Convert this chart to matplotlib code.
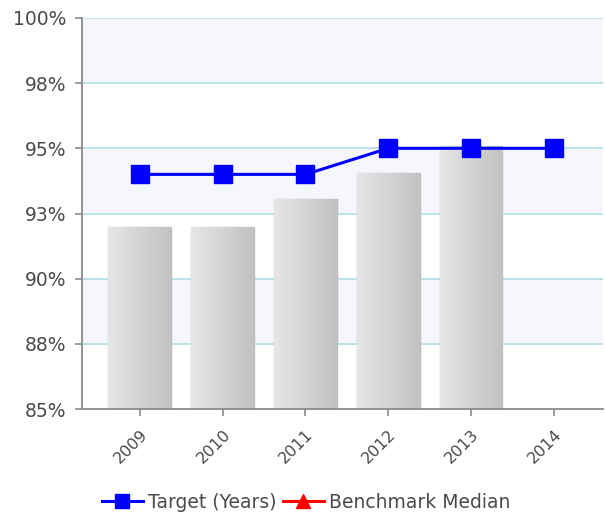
import numpy as np
import matplotlib.pyplot as plt
from matplotlib.colors import LinearSegmentedColormap

# Data
years = ["2009", "2010", "2011", "2012", "2013", "2014"]
actual = [92.0, 92.0, 93.05, 94.05, 95.1]          # bars (2014 has no value)
target = [94.0, 94.0, 94.0, 95.0, 95.0, 95.0]        # Target (Years)
benchmark = []                                       # Benchmark Median (no points)
yticks = [85, 87.5, 90, 92.5, 95, 97.5, 100]
ytick_labels = ["85%", "88%", "90%", "93%", "95%", "98%", "100%"]

fig = plt.figure(figsize=(6.05, 5.12), dpi=100)
ax = fig.add_axes([0.1355, 0.201, 0.862, 0.764])

x = np.arange(len(years))

# alternating background bands
for i in range(len(yticks) - 1):
    if i % 2 == 1:
        ax.axhspan(yticks[i], yticks[i + 1], color="#f5f7fd", zorder=0, lw=0)
for v in yticks[1:]:
    ax.axhline(v, color="#b4e0e6", lw=1.3, zorder=1)

# bars with horizontal gradient
bars = ax.bar(x[:len(actual)], np.array(actual) - 85, bottom=85, width=0.76,
              color="#d4d4d4", edgecolor="#bdbdbd", lw=1, zorder=2)
grad = LinearSegmentedColormap.from_list("g", ["#e6e6e6", "#c2c2c2"])
for b in bars:
    x0, y0 = b.get_x(), b.get_y()
    im = ax.imshow(np.linspace(0, 1, 64).reshape(1, -1), cmap=grad, aspect="auto",
                   extent=[x0, x0 + b.get_width(), y0, y0 + b.get_height()], zorder=2)
    im.set_clip_path(b)

ax.plot(x, target, color="#0000ff", lw=2.2, marker="s", markersize=13,
        label="Target (Years)", zorder=4)
ax.plot(benchmark, benchmark, color="#ff0000", lw=2.2, marker="^", markersize=13,
        label="Benchmark Median")

ax.set_xlim(-0.7, 5.6)
ax.set_ylim(85, 100)
ax.set_yticks(yticks)
ax.set_yticklabels(ytick_labels, fontsize=13.5)
ax.set_xticks(x)
ax.set_xticklabels(years, rotation=45, ha="right", va="top", rotation_mode="anchor",
                   fontsize=11.5)
for s in ["top", "right"]:
    ax.spines[s].set_visible(False)
for s in ["left", "bottom"]:
    ax.spines[s].set_color("#8a8a8a")
    ax.spines[s].set_linewidth(1.3)
ax.tick_params(axis="both", colors="#8a8a8a", length=5, width=1.2)
ax.tick_params(axis="y", labelcolor="#4a4a4a", pad=6)
ax.tick_params(axis="x", labelcolor="#4a4a4a", pad=8)

ax.legend(loc="lower center", bbox_to_anchor=(0.43, -0.305), ncol=2, frameon=False,
          fontsize=13.5, handlelength=2.2, handletextpad=0.3, columnspacing=0.3,
          markerscale=0.75, labelcolor="#4a4a4a")

fig.savefig("out.png", dpi=100)
